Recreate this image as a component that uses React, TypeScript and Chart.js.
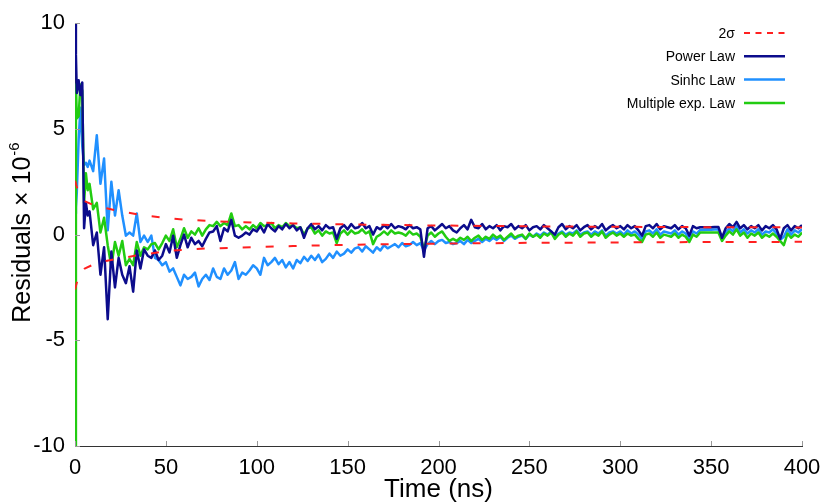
import React, { useEffect, useRef } from "react";
import { Chart, registerables } from "chart.js";

Chart.register(...registerables);

const FONT = "'Liberation Sans', Arial, Helvetica, sans-serif";

const NAVY = "#0c0c8c";
const BLUE = "#2090ff";
const GREEN = "#22cc11";
const RED = "#ff2020";

// Time grid (ns) for the residual series
const timeNs = [
  0, 0.5, 1, 2, 3, 4, 5, 6, 7, 8,
  10, 12, 14, 16, 18, 20, 22, 24, 26, 28,
  30, 32, 34, 36, 38, 40, 42, 44, 46, 48,
  50, 52, 54, 56, 58, 60, 62, 64, 66, 68,
  70, 72, 74, 76, 78, 80, 82, 84, 86, 88,
  90, 92, 94, 96, 98, 100, 102, 104, 106, 108,
  110, 112, 114, 116, 118, 120, 122, 124, 126, 128,
  130, 132, 134, 136, 138, 140, 142, 144, 146, 148,
  150, 152, 154, 156, 158, 160, 162, 164, 166, 168,
  170, 172, 174, 176, 178, 180, 182, 184, 186, 188,
  190, 192, 194, 196, 198, 200, 202, 204, 206, 208,
  210, 212, 214, 216, 218, 220, 222, 224, 226, 228,
  230, 232, 234, 236, 238, 240, 242, 244, 246, 248,
  250, 252, 254, 256, 258, 260, 262, 264, 266, 268,
  270, 272, 274, 276, 278, 280, 282, 284, 286, 288,
  290, 292, 294, 296, 298, 300, 302, 304, 306, 308,
  310, 312, 314, 316, 318, 320, 322, 324, 326, 328,
  330, 332, 334, 336, 338, 340, 342, 344, 346, 348,
  350, 352, 354, 356, 358, 360, 362, 364, 366, 368,
  370, 372, 374, 376, 378, 380, 382, 384, 386, 388,
  390, 392, 394, 396, 398, 400,
];

// Power Law residuals (×1e-6)
const powerLaw = [
  10, 8.5, 6.7, 7.3, 6.6, 7.2, 0.3, 1.5, 0.9, 1.1,
  -0.5, 0.1, -1.9, -0.6, -4.0, -0.8, -2.5, -1.1, -1.9, -2.3,
  -1.5, -2.7, -0.75, -1.6, -0.7, -1.0, -1.1, -0.75, -1.2, -1.0,
  -0.45, -0.85, -0.05, -1.1, -0.5, 0.0, -0.6, -0.15, -0.45, -0.3,
  -0.55, -0.2, 0.1, 0.15, 0.4, -0.3, 0.3, 0.15, 0.7, -0.05,
  -0.15, -0.05, 0.1, 0.0, 0.25, 0.15, 0.4, 0.1, 0.5, 0.3,
  0.15, 0.4, 0.25, 0.5, 0.3, 0.45, 0.2, 0.35, -0.15, 0.3,
  0.5, 0.25, 0.4, 0.2, 0.45, 0.3, 0.35, -0.2, 0.3, 0.45,
  0.25, 0.5, 0.3, 0.35, 0.55, 0.3, 0.4, 0.0, 0.35, 0.25,
  0.45, 0.3, 0.5, 0.3, 0.4, 0.35, 0.25, 0.45, 0.3, 0.35,
  0.25, -1.05, 0.3, 0.4, 0.2, 0.35, 0.5, 0.3, 0.4, 0.2,
  0.1, 0.3, 0.45, 0.25, 0.7, 0.35, 0.3, 0.5, 0.25, 0.4,
  0.3, 0.45, 0.2, 0.4, 0.35, 0.5, 0.25, 0.4, 0.3, 0.45,
  0.2, 0.35, 0.4, 0.25, 0.45, 0.3, 0.15, 0.0, 0.35, 0.5,
  0.25, 0.4, 0.3, 0.45, 0.2, 0.35, 0.45, 0.25, 0.4, 0.3,
  0.5, 0.2, 0.35, 0.45, 0.3, 0.4, 0.25, 0.45, 0.3, 0.4,
  0.2, -0.05, 0.4, 0.45, 0.3, 0.5, 0.25, 0.4, 0.35, 0.3,
  0.45, 0.25, 0.4, 0.3, -0.05, 0.4, 0.3, 0.35, 0.35, 0.35,
  0.35, 0.36, 0.36, -0.15, 0.3, 0.5, 0.35, 0.6, 0.3, 0.45,
  0.25, 0.4, 0.3, 0.45, 0.2, 0.4, 0.3, 0.45, 0.25, -0.2,
  0.3, 0.45, 0.2, 0.4, 0.3, 0.45,
];

// Sinhc Law residuals (×1e-6)
const sinhcLaw = [
  1.0, 1.3, 2.0, 4.5, 6.0, 4.2, 3.3, 3.4, 3.2, 3.5,
  3.0, 4.7, 2.4, 3.6, 0.2, 2.5, 0.9, 2.1, 0.9, -0.05,
  0.1, -0.05, 1.0, -0.35, -0.05, -0.35, -0.05, -1.1, -1.2, -1.45,
  -1.3, -1.75, -1.6, -2.0, -2.4, -1.9, -2.1, -2.0, -1.8, -2.45,
  -2.1, -1.9, -2.15, -1.6, -2.0, -2.1, -1.6, -1.9, -1.7, -1.3,
  -2.1, -1.8, -1.9, -1.7, -1.45, -1.6, -1.9, -1.1, -1.45, -1.3,
  -1.1, -1.4, -1.2, -1.55, -1.3, -1.6, -1.2, -1.35, -1.05, -1.25,
  -1.0, -1.2, -0.95, -1.3, -1.15, -0.9, -1.1, -0.8, -1.0, -0.9,
  -0.7, -0.85, -0.65, -0.6, -0.8, -0.55, -0.7, -0.85, -0.6, -0.75,
  -0.5, -0.65, -0.55, -0.45, -0.6, -0.4, -0.55, -0.5, -0.35, -0.5,
  -0.4, -0.75, -0.45, -0.3, -0.45, -0.3, -0.25, -0.4, -0.35, -0.45,
  -0.4, -0.3, -0.45, -0.25, -0.4, -0.3, -0.2, -0.35, -0.2, -0.3,
  -0.15, -0.25, -0.1, -0.3, -0.15, -0.05, -0.2, -0.1, -0.05, -0.2,
  0.0, -0.1, 0.05, -0.05, 0.1, 0.0, 0.15, -0.1, 0.05, 0.15,
  0.0, 0.1, 0.05, 0.2, 0.0, 0.1, 0.15, 0.0, 0.15, 0.05,
  0.2, -0.05, 0.1, 0.15, 0.05, 0.15, 0.0, 0.2, 0.05, 0.15,
  0.0, -0.2, 0.15, 0.2, 0.05, 0.25, 0.0, 0.15, 0.1, 0.05,
  0.2, 0.0, 0.15, 0.05, -0.2, 0.15, 0.05, 0.22, 0.22, 0.23,
  0.23, 0.24, 0.24, -0.2, 0.1, 0.3, 0.15, 0.4, 0.1, 0.25,
  0.05, 0.2, 0.1, 0.25, 0.0, 0.15, 0.1, 0.25, 0.05, -0.25,
  -0.1, 0.25, 0.0, 0.2, 0.1, 0.25,
];

// Multiple exp. Law residuals (×1e-6)
const multiExpLaw = [
  -10, 7.1, 5.5, 5.6, 7.1, 6.8, 1.5, 2.9, 2.1, 2.4,
  1.2, 1.5, 0.1, 0.8, -0.5, -1.5, -0.35, -1.0, -0.3, -1.45,
  -1.15, -1.45, -0.35, -1.0, -0.6, -0.7, -0.45, -0.4, -0.7, -0.4,
  -0.05, -0.3, 0.25, -0.6, -0.2, 0.3, -0.15, 0.15, 0.0, 0.3,
  -0.05, 0.25, 0.45, 0.4, 0.6, 0.4, 0.55, 0.45, 1.0, 0.4,
  0.45, 0.25, 0.4, 0.25, 0.45, 0.3, 0.55, 0.4, 0.45, 0.55,
  0.3, 0.45, 0.35, 0.55, 0.4, 0.45, 0.3, 0.35, 0.0, 0.3,
  0.35, 0.05, 0.2, -0.05, 0.15, 0.05, 0.1, -0.4, 0.05, 0.2,
  0.0, 0.2, 0.05, 0.1, 0.25, 0.05, 0.15, -0.45, -0.1, 0.0,
  0.15, 0.0, 0.2, 0.05, 0.1, 0.05, -0.05, 0.15, 0.0, 0.05,
  -0.1, -0.7, -0.05, 0.1, -0.1, 0.05, 0.15, -0.1, -0.3, -0.2,
  -0.3, -0.15, -0.25, -0.1, -0.3, -0.15, -0.05, -0.25, -0.1, -0.2,
  0.0, -0.15, -0.05, -0.25, -0.1, 0.05, -0.15, -0.05, 0.0, -0.2,
  0.05, -0.1, 0.0, -0.15, 0.05, -0.05, 0.1, -0.2, 0.0, 0.1,
  -0.1, 0.05, -0.05, 0.15, -0.1, 0.05, 0.1, -0.1, 0.05, -0.05,
  0.15, -0.15, 0.0, 0.1, -0.05, 0.05, -0.1, 0.05, -0.05, 0.0,
  -0.2, -0.35, 0.0, 0.05, -0.1, 0.1, -0.15, 0.0, -0.05, -0.1,
  0.05, -0.15, 0.0, -0.1, -0.35, 0.0, -0.1, 0.1, 0.1, 0.1,
  0.1, 0.1, 0.1, -0.3, -0.05, 0.15, 0.0, 0.25, -0.05, 0.1,
  -0.15, 0.05, -0.05, 0.1, -0.15, 0.0, -0.1, 0.05, -0.1, -0.3,
  -0.5, 0.05, -0.15, 0.0, -0.1, 0.1,
];

// 2σ envelope
const sigmaTime = [0, 2, 5, 10, 17, 23, 29, 35, 41, 47, 53, 60, 66, 72, 80, 90, 103, 120, 140, 160, 180, 200, 225, 250, 275, 300, 325, 350, 375, 400];
const sigmaUpper = [2.55, 1.95, 1.6, 1.4, 1.25, 1.13, 1.04, 0.95, 0.88, 0.82, 0.76, 0.71, 0.68, 0.65, 0.62, 0.59, 0.56, 0.53, 0.5, 0.47, 0.45, 0.43, 0.41, 0.39, 0.38, 0.37, 0.36, 0.35, 0.35, 0.34];
const sigmaLower = [-2.6, -1.95, -1.62, -1.42, -1.25, -1.15, -1.06, -0.97, -0.9, -0.83, -0.76, -0.72, -0.69, -0.66, -0.64, -0.62, -0.58, -0.54, -0.5, -0.47, -0.45, -0.43, -0.41, -0.39, -0.38, -0.37, -0.36, -0.35, -0.35, -0.34];

const xTicks = [0, 50, 100, 150, 200, 250, 300, 350, 400];
const yTicks = [-10, -5, 0, 5, 10];

const legendItems = [
  { label: "2σ", color: RED, dash: [6, 5.5] },
  { label: "Power Law", color: NAVY, dash: [] as number[] },
  { label: "Sinhc Law", color: BLUE, dash: [] as number[] },
  { label: "Multiple exp. Law", color: GREEN, dash: [] as number[] },
];

const decorPlugin = {
  id: "decor",
  afterDraw(chart: any) {
    const { ctx, chartArea, scales } = chart;
    const xs = scales.x;
    const ys = scales.y;
    ctx.save();
    // inward tick marks
    ctx.strokeStyle = "#999";
    ctx.lineWidth = 1;
    ctx.beginPath();
    yTicks.forEach((v) => {
      const y = Math.round(ys.getPixelForValue(v)) + 0.5;
      ctx.moveTo(chartArea.left, y);
      ctx.lineTo(chartArea.left + 5, y);
    });
    xTicks.forEach((v) => {
      const x = Math.round(xs.getPixelForValue(v)) + 0.5;
      ctx.moveTo(x, chartArea.bottom);
      ctx.lineTo(x, chartArea.bottom - 5);
    });
    ctx.stroke();

    // y-axis title with superscript
    ctx.fillStyle = "#000";
    const mainText = "Residuals × 10";
    const supText = "-6";
    ctx.font = `25px ${FONT}`;
    const w1 = ctx.measureText(mainText).width;
    ctx.font = `15px ${FONT}`;
    const w2 = ctx.measureText(supText).width;
    const total = w1 + w2;
    ctx.translate(30, 233);
    ctx.rotate(-Math.PI / 2);
    ctx.textBaseline = "alphabetic";
    ctx.textAlign = "left";
    ctx.font = `25px ${FONT}`;
    ctx.fillText(mainText, -total / 2, 0);
    ctx.font = `15px ${FONT}`;
    ctx.fillText(supText, -total / 2 + w1 + 1, -11);
    ctx.setTransform(1, 0, 0, 1, 0, 0);
    ctx.restore();

    ctx.save();
    // x-axis title
    ctx.fillStyle = "#000";
    ctx.font = `26px ${FONT}`;
    ctx.textAlign = "center";
    ctx.textBaseline = "alphabetic";
    ctx.fillText("Time (ns)", (chartArea.left + chartArea.right) / 2, 497);

    // legend
    ctx.font = `14px ${FONT}`;
    ctx.textAlign = "right";
    const rows = [33, 56.3, 79.6, 103];
    legendItems.forEach((it, i) => {
      const cy = rows[i];
      ctx.fillStyle = "#000";
      ctx.fillText(it.label, 735, cy + 5);
      ctx.strokeStyle = it.color;
      ctx.lineWidth = it.dash.length ? 2 : 2.5;
      ctx.setLineDash(it.dash);
      ctx.beginPath();
      ctx.moveTo(744, cy);
      ctx.lineTo(785, cy);
      ctx.stroke();
    });
    ctx.setLineDash([]);
    ctx.restore();
  },
};

const pts = (t: number[], v: number[]) => t.map((x, i) => ({ x, y: v[i] }));

export default function App() {
  const canvasRef = useRef<HTMLCanvasElement>(null);

  useEffect(() => {
    const canvas = canvasRef.current;
    if (!canvas) return;
    const tickFont = { family: FONT, size: 22 };
    const chart = new Chart(canvas, {
      type: "line",
      data: {
        datasets: [
          { label: "2σ", data: pts(sigmaTime, sigmaUpper), borderColor: RED, borderWidth: 2, borderDash: [8, 15] },
          { label: "2σ lower", data: pts(sigmaTime, sigmaLower), borderColor: RED, borderWidth: 2, borderDash: [8, 15] },
          { label: "Power Law", data: pts(timeNs, powerLaw), borderColor: NAVY, borderWidth: 2.5 },
          { label: "Multiple exp. Law", data: pts(timeNs, multiExpLaw), borderColor: GREEN, borderWidth: 2.5 },
          { label: "Sinhc Law", data: pts(timeNs, sinhcLaw), borderColor: BLUE, borderWidth: 2.5 },
        ] as any,
      },
      options: {
        animation: false,
        responsive: true,
        maintainAspectRatio: false,
        parsing: true,
        layout: { padding: { top: 19, right: 28, left: 0, bottom: 0 } },
        elements: {
          point: { radius: 0, hoverRadius: 0 },
          line: { tension: 0, fill: false, borderJoinStyle: "round" as any },
        },
        plugins: {
          legend: { display: false },
          tooltip: { enabled: false },
        },
        scales: {
          x: {
            type: "linear",
            min: 0,
            max: 400,
            ticks: { stepSize: 50, font: tickFont, color: "#000", padding: 9, maxRotation: 0, autoSkip: false },
            grid: { display: false, drawTicks: false },
            border: { display: true, color: "#333", width: 1 },
            afterFit: (s: any) => {
              s.height = 58;
            },
          },
          y: {
            type: "linear",
            min: -10,
            max: 10,
            ticks: { stepSize: 5, font: tickFont, color: "#000", padding: 10 },
            grid: { display: false, drawTicks: false },
            border: { display: true, color: "#333", width: 1 },
            afterFit: (s: any) => {
              s.width = 75;
            },
          },
        },
      } as any,
      plugins: [decorPlugin],
    });
    return () => chart.destroy();
  }, []);

  return (
    <div style={{ position: "fixed", left: 0, top: 0, width: 830, height: 504, background: "#fff" }}>
      <canvas ref={canvasRef} />
    </div>
  );
}
